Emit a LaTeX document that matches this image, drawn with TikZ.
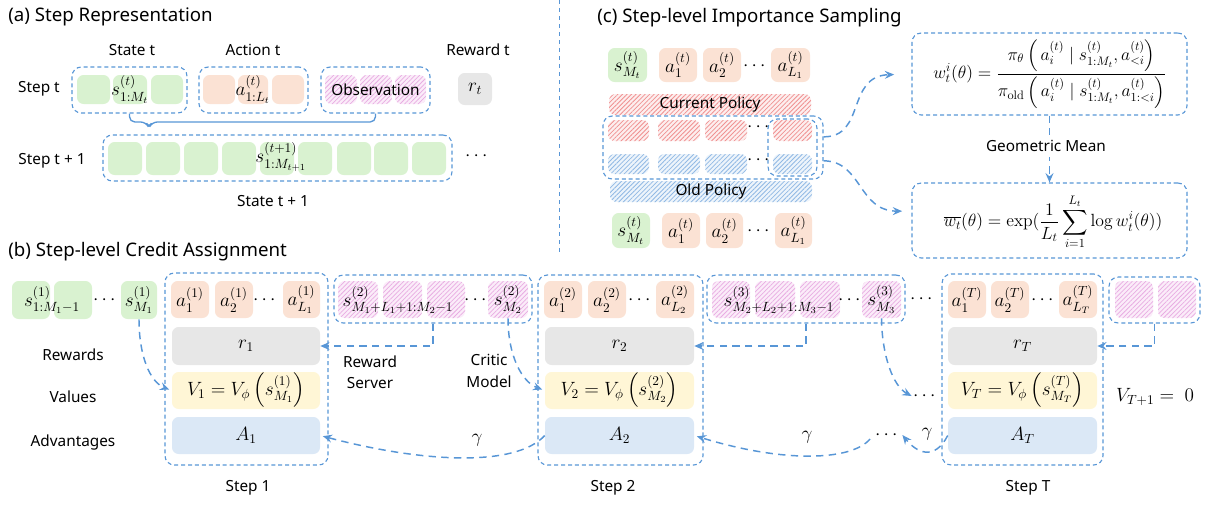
\documentclass[tikz,border=0pt]{standalone}
\usepackage{amsmath}
\usepackage[no-math]{fontspec}
\setmainfont{Noto Sans}
\usetikzlibrary{arrows.meta,patterns.meta,calc}

\definecolor{dblue}{RGB}{88,150,214}
\definecolor{cgreen}{RGB}{217,242,208}
\definecolor{cpeach}{RGB}{251,226,212}
\definecolor{cgray}{RGB}{231,231,231}
\definecolor{cyellow}{RGB}{255,246,214}
\definecolor{clblue}{RGB}{219,232,246}
\definecolor{pinkbase}{RGB}{251,236,249}
\definecolor{pinkline}{RGB}{232,172,226}
\definecolor{redbase}{RGB}{253,238,238}
\definecolor{redline}{RGB}{240,145,145}
\definecolor{bluebase}{RGB}{237,244,251}
\definecolor{blueline}{RGB}{145,185,228}

\newcommand\tfont{\fontsize{14}{16}\selectfont}
\newcommand\lfont{\fontsize{11.5}{13}\selectfont}
\newcommand\lfontb{\fontsize{11.5}{16}\selectfont}
\newcommand\mfont{\fontsize{14}{16}\selectfont}
\newcommand\ffont{\fontsize{14.4}{16}\selectfont}

% box given by its corners (x1,y1)-(x2,y2) in pixel units
\newcommand\cellbox[7]{\node[#1, minimum width={(#5-(#3))*0.75pt}, minimum height={(#6-(#4))*0.75pt}] (#2) at ({(#3+#5)/2},{(#4+#6)/2}) {#7};}

\begin{document}
\begin{tikzpicture}[x=0.75pt,y=-0.75pt,
  cell/.style={inner sep=0pt, rounded corners=5pt, font=\mfont},
  gC/.style={cell, fill=cgreen},
  oC/.style={cell, fill=cpeach},
  grC/.style={cell, fill=cgray},
  yC/.style={cell, fill=cyellow},
  lbC/.style={cell, fill=clblue},
  pC/.style={cell, fill=pinkbase, postaction={pattern={Lines[angle=45,distance=2.4pt,line width=0.55pt]}, pattern color=pinkline}},
  rC/.style={cell, fill=redbase, postaction={pattern={Lines[angle=45,distance=2.4pt,line width=0.6pt]}, pattern color=redline}},
  bC/.style={cell, fill=bluebase, postaction={pattern={Lines[angle=45,distance=2.4pt,line width=0.6pt]}, pattern color=blueline}},
  grp/.style={draw=dblue, line width=0.85pt, dash pattern=on 3pt off 2.2pt, rounded corners=7pt, inner sep=0pt},
  arr/.style={draw=dblue, line width=1.1pt, dash pattern=on 5.5pt off 4pt, -{Stealth[length=7pt,width=6pt,inset=2.5pt]}},
  bracesty/.style={draw=dblue, line width=1pt, rounded corners=4pt},
  divider/.style={draw=dblue, line width=0.6pt, dash pattern=on 3pt off 3pt},
  lbl/.style={font=\lfont, inner sep=1pt},
  mlbl/.style={font=\mfont, inner sep=1pt},
  ttl/.style={font=\tfont, anchor=west, inner sep=0pt}
]
\useasboundingbox (0,0) rectangle (1205,504);

% ================= (a) Step representation =================
\node[ttl] (ta) at (8,17) {(a) Step Representation};
\coordinate (divtop) at (559,0);
\coordinate (divbot) at (559,252);
\draw[divider] (divtop) -- (divbot);

\node[lbl] (lst) at (132,50) {State t};
\node[lbl] (lac) at (253,50) {Action t};
\node[lbl] (lrw) at (478,50) {Reward t};
\node[lbl] (lsa) at (39,89) {Step t};
\node[lbl] (lsb) at (52,161) {Step t + 1};
\node[lbl] (lsn) at (273,201) {State t + 1};

\cellbox{grp}{sg}{72}{67}{187}{113}{}
\cellbox{grp}{ag}{199}{67}{308}{113}{}
\cellbox{grp}{og}{321}{67}{430}{113}{}
\cellbox{gC}{sa}{77}{75}{110}{104}{}
\cellbox{gC}{sb}{113}{75}{147}{104}{}
\cellbox{gC}{sc}{151}{75}{183}{104}{}
\node[mlbl] (sbl) at (sb) {$s^{(t)}_{1:M_t}$};
\cellbox{oC}{aa}{203}{75}{235}{104}{}
\cellbox{oC}{ab}{238}{75}{268}{104}{}
\cellbox{oC}{ac}{272}{75}{304}{104}{}
\node[mlbl] (abl) at (ab) {$a^{(t)}_{1:L_t}$};
\cellbox{pC}{oa}{325}{75}{357}{104}{}
\cellbox{pC}{ob}{360}{75}{392}{104}{}
\cellbox{pC}{oc}{395}{75}{426}{104}{}
\node[lbl] (obs) at (og.center) {Observation};
\cellbox{grC}{rt}{458}{73}{492}{105}{$r_t$}

% brace gathering state, action and observation into the next state
\coordinate (tip) at (149,128);
\draw[bracesty] (sg.south) |- (146,122) -- (tip) -- (152,122) -| (og.south);

\cellbox{grp}{ng}{103}{135}{452}{181}{}
\foreach \x [count=\i] in {108,146,184,222,260,298,337,374,412}
  {\cellbox{gC}{n\i}{\x}{142}{\x+34}{175}{}}
\node[mlbl] (nlbl) at (281,157) {$s^{(t+1)}_{1:M_{t+1}}$};
\node[mlbl] (ndots) at (478,156) {$\cdots$};

% ================= (c) Step-level importance sampling =================
\node[ttl] (tc) at (597,18) {(c) Step-level Importance Sampling};

\cellbox{gC}{cs}{608}{48}{647}{82}{$s^{(t)}_{M_t}$}
\cellbox{oC}{ca1}{659}{48}{697}{82}{$a^{(t)}_{1}$}
\cellbox{oC}{ca2}{703}{48}{741}{82}{$a^{(t)}_{2}$}
\node[mlbl] (cdt) at (756,66) {$\cdots$};
\cellbox{oC}{ca3}{771}{48}{810}{82}{$a^{(t)}_{L_1}$}

\cellbox{rC}{cur}{609}{94}{811}{115}{}
\node[lbl] (curl) at (cur) {Current Policy};

\cellbox{grp}{pol}{603}{116}{823}{179}{}
\cellbox{rC}{pr1}{608}{120}{649}{141}{}
\cellbox{rC}{pr2}{658}{120}{700}{141}{}
\cellbox{rC}{pr3}{705}{120}{747}{141}{}
\node[mlbl] (prd) at (760,127) {$\cdots$};
\cellbox{rC}{pr4}{773}{120}{812}{141}{}
\cellbox{bC}{pb1}{608}{154}{649}{174}{}
\cellbox{bC}{pb2}{658}{154}{700}{174}{}
\cellbox{bC}{pb3}{705}{154}{747}{174}{}
\node[mlbl] (pbd) at (760,160) {$\cdots$};
\cellbox{bC}{pb4}{773}{154}{812}{174}{}
\cellbox{grp}{hl}{768}{119}{817}{176}{}

\cellbox{bC}{old}{610}{181}{812}{202}{}
\node[lbl] (oldl) at (old) {Old Policy};

\cellbox{gC}{bs}{612}{213}{650}{248}{$s^{(t)}_{M_t}$}
\cellbox{oC}{ba1}{662}{213}{700}{248}{$a^{(t)}_{1}$}
\cellbox{oC}{ba2}{706}{213}{743}{248}{$a^{(t)}_{2}$}
\node[mlbl] (bdt) at (760,231) {$\cdots$};
\cellbox{oC}{ba3}{775}{213}{812}{248}{$a^{(t)}_{L_1}$}

\cellbox{grp}{fa}{912}{33}{1187}{115}{}
\node[font=\ffont, inner sep=0pt] (fae) at (1050,74)
  {\scalebox{0.92}{$\displaystyle w_t^{i}(\theta)=\frac{\pi_\theta\left(\,a_i^{(t)}\mid s^{(t)}_{1:M_t},a^{(t)}_{<i}\right)}{\pi_{\mathrm{old}}\left(\,a_i^{(t)}\mid s^{(t)}_{1:M_t},a^{(t)}_{1:<i}\right)}$}};
\cellbox{grp}{fb}{912}{183}{1187}{258}{}
\node[font=\ffont, inner sep=0pt] (fbe) at (1053,222)
  {\scalebox{0.92}{$\displaystyle \overline{w_t}(\theta)=\exp(\frac{1}{L_t}\sum_{i=1}^{L_t}\log w_t^{i}(\theta))$}};

\draw[arr] (fa.south) -- (fb.north);
\node[lbl, fill=white, inner ysep=4pt] (gm) at (1046,146) {Geometric Mean};
\draw[arr, shorten >=13pt] ([yshift=8pt]pol.east) .. controls (866,137) and (846,76) .. (fa.west);
\draw[arr, shorten >=7pt] ([yshift=-10pt]pol.east) .. controls (862,161) and (858,211) .. ([yshift=7pt]fb.west);

% ================= (b) Step-level credit assignment =================
\node[ttl] (tb) at (8,252) {(b) Step-level Credit Assignment};

\node[lbl] (lrew) at (73,355) {Rewards};
\node[lbl] (lval) at (73,397) {Values};
\node[lbl] (ladv) at (73,443) {Advantages};

\cellbox{gC}{g1}{12}{281}{50}{319}{}
\cellbox{gC}{g2}{54}{281}{92}{319}{}
\node[mlbl] (g12) at (52,300) {$s^{(1)}_{1:M_1-1}$};
\node[mlbl] (gd) at (106,300) {$\cdots$};
\cellbox{gC}{g3}{121}{281}{157}{319}{$s^{(1)}_{M_1}$}

% step 1
\cellbox{grp}{st1}{165}{273}{328}{465}{}
\cellbox{oC}{p1a}{171}{281}{209}{318}{$a^{(1)}_{1}$}
\cellbox{oC}{p1b}{215}{281}{253}{318}{$a^{(1)}_{2}$}
\node[mlbl] (p1d) at (266,300) {$\cdots$};
\cellbox{oC}{p1c}{283}{281}{320}{318}{$a^{(1)}_{L_1}$}
\cellbox{grC}{r1}{172}{327}{320}{365}{$r_1$}
\cellbox{yC}{v1}{172}{372}{320}{409}{$V_1=V_\phi\left(s^{(1)}_{M_1}\right)$}
\cellbox{lbC}{A1}{172}{417}{320}{454}{$A_1$}
\node[lbl] (s1l) at (248,488) {Step 1};

% observation 2
\cellbox{grp}{og2}{334}{275}{532}{323}{}
\cellbox{pC}{q1}{338}{281}{378}{318}{}
\cellbox{pC}{q2}{383}{281}{422}{318}{}
\cellbox{pC}{q3}{427}{281}{465}{318}{}
\node[mlbl] (q4d) at (477,300) {$\cdots$};
\cellbox{pC}{q4}{488}{281}{528}{318}{$s^{(2)}_{M_2}$}
\node[mlbl] (q13) at (398,300) {$s^{(2)}_{M_1+L_1+1:M_2-1}$};

% step 2
\cellbox{grp}{st2}{538}{275}{703}{465}{}
\cellbox{oC}{p2a}{544}{281}{582}{318}{$a^{(2)}_{1}$}
\cellbox{oC}{p2b}{588}{281}{626}{318}{$a^{(2)}_{2}$}
\node[mlbl] (p2d) at (641,300) {$\cdots$};
\cellbox{oC}{p2c}{656}{281}{694}{318}{$a^{(2)}_{L_2}$}
\cellbox{grC}{r2}{545}{327}{694}{365}{$r_2$}
\cellbox{yC}{v2}{545}{372}{694}{409}{$V_2=V_\phi\left(s^{(2)}_{M_2}\right)$}
\cellbox{lbC}{A2}{545}{417}{694}{454}{$A_2$}
\node[lbl] (s2l) at (613,488) {Step 2};

% observation 3
\cellbox{grp}{og3}{707}{275}{905}{323}{}
\cellbox{pC}{u1}{712}{281}{750}{318}{}
\cellbox{pC}{u2}{755}{281}{795}{318}{}
\cellbox{pC}{u3}{800}{281}{840}{318}{}
\node[mlbl] (u4d) at (851,300) {$\cdots$};
\cellbox{pC}{u4}{862}{281}{901}{318}{$s^{(3)}_{M_3}$}
\node[mlbl] (u13) at (779,300) {$s^{(3)}_{M_2+L_2+1:M_3-1}$};

\node[mlbl] (mdots) at (923,299) {$\cdots$};

% step T
\cellbox{grp}{stT}{942}{274}{1103}{465}{}
\cellbox{oC}{pTa}{948}{281}{986}{318}{$a^{(T)}_{1}$}
\cellbox{oC}{pTb}{991}{281}{1029}{318}{$a^{(T)}_{2}$}
\node[mlbl] (pTd) at (1044,300) {$\cdots$};
\cellbox{oC}{pTc}{1059}{281}{1097}{318}{$a^{(T)}_{L_T}$}
\cellbox{grC}{rT}{948}{327}{1097}{365}{$r_T$}
\cellbox{yC}{vT}{948}{372}{1097}{409}{$V_T=V_\phi\left(s^{(T)}_{M_T}\right)$}
\cellbox{lbC}{AT}{948}{417}{1097}{454}{$A_T$}
\node[lbl] (sTl) at (1028,488) {Step T};

% trailing observation
\cellbox{grp}{og4}{1109}{277}{1200}{323}{}
\cellbox{pC}{w1}{1115}{281}{1153}{318}{}
\cellbox{pC}{w2}{1158}{281}{1196}{318}{}

\node[mlbl] (vend) at (1155,397) {$V_{T+1}=\ 0$};
\node[mlbl] (vdots) at (926,396) {$\cdots$};
\node[mlbl] (adots) at (888,435) {$\cdots$};

\node[font=\lfontb, align=center] (rsv) at (370,372) {Reward\\Server};
\node[font=\lfontb, align=center] (crm) at (489,371) {Critic\\Model};

\node[mlbl] (ga1) at (477,440) {$\gamma$};
\node[mlbl] (ga2) at (807,437) {$\gamma$};
\node[mlbl] (ga3) at (927,434) {$\gamma$};

% reward server arrows
\draw[arr] (og2.south) |- (r1.east);
\draw[arr] (og3.south) |- (r2.east);
\draw[arr] (og4.south) |- (rT.east);

% critic model arrows
\draw[arr, shorten >=2pt] (g3.south) .. controls (139,356) and (150,382) .. (v1.west);
\draw[arr, shorten >=2pt] (q4.south) .. controls (508,356) and (522,382) .. (v2.west);
\draw[arr] (u4.south) .. controls (882,356) and (893,386) .. (vdots.west);

% discounted advantage propagation
\draw[arr, shorten >=2pt] (A2.west) .. controls (515,468) and (420,462) .. (A1.east);
\draw[arr, shorten >=2pt, shorten <=4pt] (adots.west) .. controls (850,462) and (780,462) .. (A2.east);
\draw[arr] (AT.west) .. controls (934,462) and (916,452) .. (adots.east);

\end{tikzpicture}
\end{document}
